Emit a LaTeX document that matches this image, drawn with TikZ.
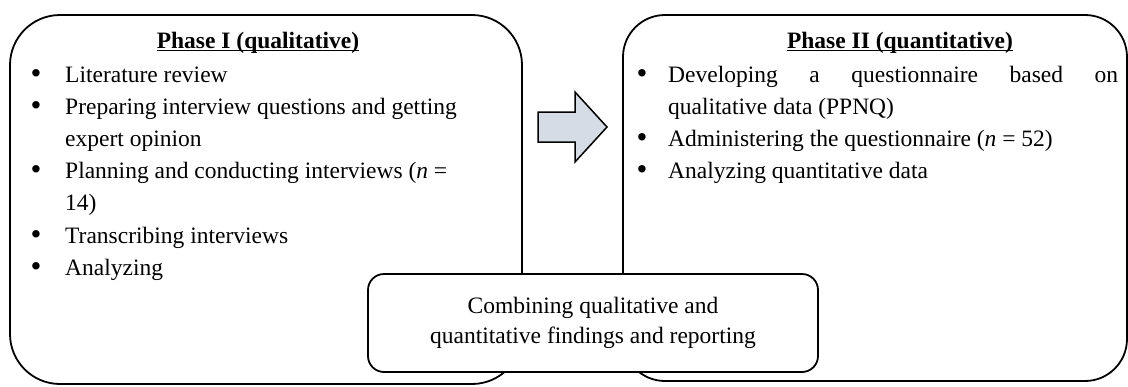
\documentclass[tikz,border=0pt]{standalone}
\usepackage{fontspec}
\setmainfont{Liberation Serif}
% underline drawn as a rule that crosses descenders
\newcommand\headul[1]{\setbox0\hbox{#1}\rlap{\rule[-2.8pt]{\wd0}{1.3pt}}\box0}
\begin{document}
\begin{tikzpicture}[x=1pt,y=-1pt,
  phasebox/.style={draw, line width=1.8pt, inner sep=0pt},
  mergebox/.style={draw, line width=1.8pt, rounded corners=16pt, fill=white, inner sep=0pt},
  body/.style={inner sep=0pt, font=\fontsize{23.5}{32}\selectfont},
  item/.style={body, anchor=base west},
  dot/.style={inner sep=0pt, anchor=base, font=\fontsize{31}{32}\selectfont},
  head/.style={body, anchor=base, font=\fontsize{23.5}{32}\selectfont\bfseries},
  flow/.style={draw, line width=1.5pt, fill=arrowfill, line join=miter}]
\definecolor{arrowfill}{HTML}{D6DCE5}
\useasboundingbox (0,0) rectangle (1128,386);

% phase frames
\node[phasebox, rounded corners=50pt, minimum width=512pt, minimum height=369pt] (ph1) at (266,199.5) {};
\node[phasebox, rounded corners=42pt, minimum width=504pt, minimum height=366pt] (ph2) at (875,198) {};

% phase I heading and steps
\node[head] (h1) at (258,48) {\headul{Phase I (qualitative)}};
\foreach \y/\n in {82/1,114/2,178/3,243/4,275/5} \node[dot] (b1\n) at (36,\y+1) {•};
\node[item] (a1) at (65,82)  {Literature review};
\node[item] (a2) at (65,114) {Preparing interview questions and getting};
\node[item] (a3) at (65,146) {expert opinion};
\node[item] (a4) at (65,178) {Planning and conducting interviews (\textit{n} =};
\node[item] (a5) at (65,210) {14)};
\node[item] (a6) at (65,243) {Transcribing interviews};
\node[item] (a7) at (65,275) {Analyzing};

% phase II heading and steps
\node[head] (h2) at (900,48) {\headul{Phase II (quantitative)}};
\foreach \y/\n in {82/1,146/2,178/3} \node[dot] (b2\n) at (642,\y+1) {•};
\node[item] (c1) at (668,82)  {\makebox[450pt][s]{Developing a questionnaire based on}};
\node[item] (c2) at (668,114) {qualitative data (PPNQ)};
\node[item] (c3) at (668,146) {Administering the questionnaire (\textit{n} = 52)};
\node[item] (c4) at (668,178) {Analyzing quantitative data};

% block arrow from phase I to phase II
\draw[flow] (538,112) -- (575,112) -- (575,92) -- (607,127) -- (575,162) -- (575,142) -- (538,142) -- cycle;

% merging step
\node[mergebox, minimum width=450pt, minimum height=98pt, align=center,
      font=\fontsize{23.5}{30}\selectfont] (mix) at (593,323)
  {Combining qualitative and\\quantitative findings and reporting};
\end{tikzpicture}
\end{document}
